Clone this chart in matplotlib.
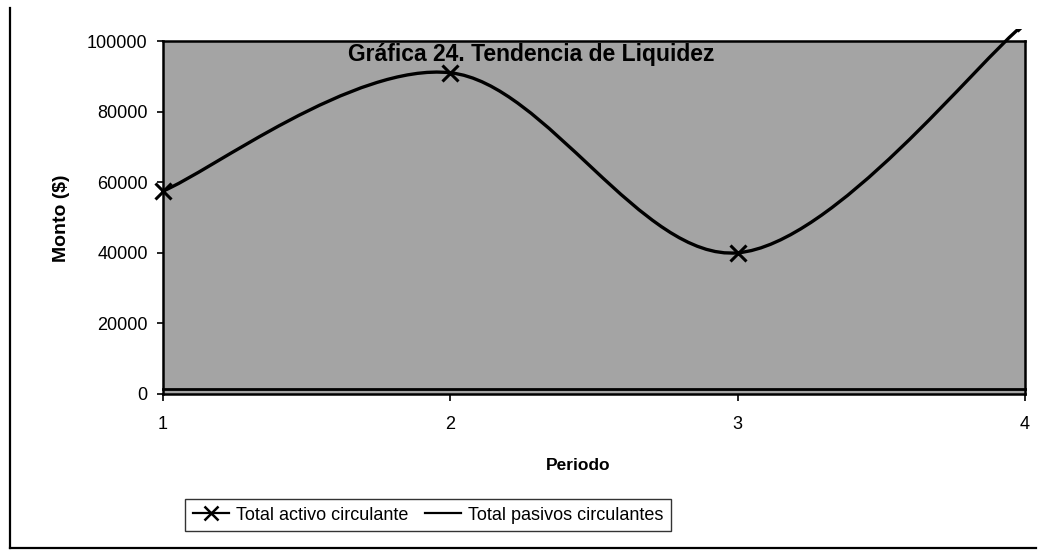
import matplotlib
matplotlib.use("Agg")
import matplotlib.pyplot as plt
from matplotlib.path import Path
from matplotlib.patches import Rectangle, PathPatch
from matplotlib.lines import Line2D
import numpy as np

plt.rcParams['font.family'] = ['Liberation Sans', 'DejaVu Sans']

periodos = [1, 2, 3, 4]
activo_circulante = [57500, 91000, 40000, 105000]
pasivos_circulantes = [1500, 1500, 1500, 1500]
y_ticks = [0, 20000, 40000, 60000, 80000, 100000]
x_ticks = [1, 2, 3, 4]

title_text = "Gráfica 24. Tendencia de Liquidez"
ylabel_text = "Monto ($)"
xlabel_text = "Periodo"
legend_labels = ["Total activo circulante", "Total pasivos circulantes"]

W, H = 1040, 554
fig = plt.figure(figsize=(W / 100, H / 100), dpi=100)
fig.patch.set_facecolor('white')

left, right, top, bottom = 163, 1025, 41, 394
ax = fig.add_axes([left / W, 1 - bottom / H, (right - left) / W, (bottom - top) / H])
ax.set_facecolor('#a4a4a4')
ax.set_xlim(1, 4)
ax.set_ylim(0, 100000)


def smooth_path(xs, ys):
    pts = np.column_stack([xs, ys]).astype(float)
    n = len(pts)
    verts = [pts[0]]
    codes = [Path.MOVETO]
    for i in range(n - 1):
        p0 = pts[i - 1] if i > 0 else pts[i]
        p1 = pts[i]
        p2 = pts[i + 1]
        p3 = pts[i + 2] if i + 2 < n else pts[i + 1]
        c1 = p1 + (p2 - p0) / 6.0
        c2 = p2 - (p3 - p1) / 6.0
        verts += [c1, c2, p2]
        codes += [Path.CURVE4] * 3
    return Path(verts, codes)


clip_rect = Rectangle((0.9, -3000), 3.1, 106500, transform=ax.transData,
                      facecolor='none', edgecolor='none')
ax.add_patch(clip_rect)
clip_curve = Rectangle((1, -3000), 3, 106500, transform=ax.transData,
                       facecolor='none', edgecolor='none')
ax.add_patch(clip_curve)

curve = PathPatch(smooth_path(periodos, activo_circulante), facecolor='none',
                  edgecolor='black', lw=2.4, zorder=3)
ax.add_patch(curve)
curve.set_clip_path(clip_curve)

mk, = ax.plot(periodos, activo_circulante, linestyle='none', marker='x',
              markersize=11, markeredgewidth=2.2, color='black', zorder=4)
mk.set_clip_path(clip_rect)

ax.plot(periodos, pasivos_circulantes, color='black', lw=2.0, zorder=3,
        clip_on=False)

for s in ax.spines.values():
    s.set_linewidth(1.8)
    s.set_color('black')

ax.set_yticks(y_ticks)
ax.set_yticklabels([str(v) for v in y_ticks], fontsize=13)
ax.set_xticks(x_ticks)
ax.set_xticklabels([str(v) for v in x_ticks], fontsize=13)
ax.tick_params(axis='y', direction='out', length=4, width=1.2, pad=7)
ax.tick_params(axis='x', direction='out', length=5, width=1.2, pad=11)

fig.text(531 / W, 1 - 54 / H, title_text, ha='center', va='center',
         fontsize=16.5, fontweight='bold', zorder=10)
fig.text(62 / W, 1 - 218 / H, ylabel_text, ha='center', va='center',
         rotation=90, fontsize=14, fontweight='bold')
fig.text(578 / W, 1 - 465 / H, xlabel_text, ha='center', va='center',
         fontsize=12.5, fontweight='bold')

handles = [Line2D([], [], color='black', lw=1.6, marker='x', markersize=10,
                  markeredgewidth=1.8),
           Line2D([], [], color='black', lw=1.6)]
leg = fig.legend(handles, legend_labels, ncol=2, loc='center',
                 bbox_to_anchor=(428 / W, 1 - 515 / H), fontsize=13,
                 frameon=True, fancybox=False, handlelength=2.0,
                 handletextpad=0.4, columnspacing=0.9, borderpad=0.4)
leg.get_frame().set_edgecolor('black')
leg.get_frame().set_linewidth(1.0)

# outer chart border (left and bottom visible)
fig.add_artist(Line2D([10 / W, 10 / W], [1 - 8 / H, 1 - 548 / H],
                      transform=fig.transFigure, color='black', lw=1.6))
fig.add_artist(Line2D([10 / W, 1036 / W], [1 - 548 / H, 1 - 548 / H],
                      transform=fig.transFigure, color='black', lw=1.6))

fig.savefig('out.png', dpi=100)
